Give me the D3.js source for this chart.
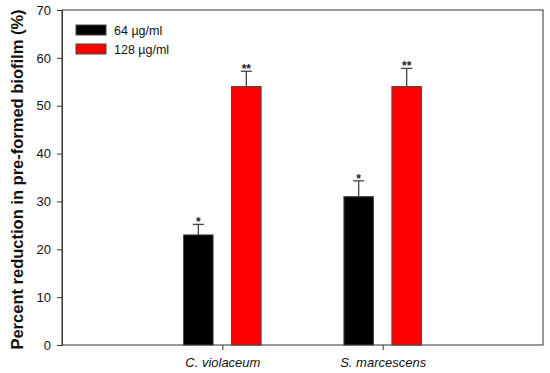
<!DOCTYPE html>
<html>
<head>
<meta charset="utf-8" />
<title>Biofilm reduction</title>
<style>
    body { margin: 0; background: #fff; }
    svg text { font-family: "Liberation Sans", Arial, sans-serif; }
</style>
</head>
<body>
<svg></svg>
<script src="https://d3js.org/d3.v7.min.js"></script>
<script>
    // chart data
    var categories = ["C. violaceum", "S. marcescens"];
    var seriesNames = ["64 \u00b5g/ml", "128 \u00b5g/ml"];
    var seriesColors = ["#000000", "#ff0000"];
    var values64 = [23, 31];
    var values128 = [54, 54];
    var errors64 = [2.2, 3.3];
    var errors128 = [3.2, 3.8];
    var stars64 = ["*", "*"];
    var stars128 = ["**", "**"];
    var yTicks = [0, 10, 20, 30, 40, 50, 60, 70];

    var width = 550, height = 373;
    var margin = { top: 10, right: 7, bottom: 28, left: 62 };

    var svg = d3.select("svg")
        .attr("width", width)
        .attr("height", height);

    var x = d3.scaleLinear()
        .domain([0, categories.length + 1])
        .range([margin.left, width - margin.right]);

    var y = d3.scaleLinear()
        .domain([0, 70])
        .range([height - margin.bottom, margin.top]);

    var barW = 29.5, offset = 24;

    // frame
    svg.append("rect")
        .attr("x", margin.left)
        .attr("y", margin.top)
        .attr("width", width - margin.left - margin.right)
        .attr("height", height - margin.top - margin.bottom)
        .attr("fill", "none")
        .attr("stroke", "#333")
        .attr("stroke-width", 1);

    // y axis
    var yAxis = svg.append("g")
        .attr("transform", "translate(" + margin.left + ",0)")
        .call(d3.axisLeft(y).tickValues(yTicks).tickSize(5).tickPadding(6));
    yAxis.select(".domain").attr("stroke", "#333");
    yAxis.selectAll(".tick line").attr("stroke", "#333");
    yAxis.selectAll("text").style("font-size", "13px").attr("fill", "#111");

    // x axis
    var xAxis = svg.append("g")
        .attr("transform", "translate(0," + (height - margin.bottom) + ")")
        .call(d3.axisBottom(x).tickValues([1, 2]).tickSize(5).tickPadding(8)
            .tickFormat(function (d) { return categories[d - 1]; }));
    xAxis.select(".domain").remove();
    xAxis.selectAll(".tick line").attr("stroke", "#333");
    xAxis.selectAll("text")
        .style("font-size", "13px")
        .style("font-style", "italic")
        .attr("fill", "#111");

    var series = [
        { vals: values64, errs: errors64, stars: stars64, color: seriesColors[0], dx: -offset },
        { vals: values128, errs: errors128, stars: stars128, color: seriesColors[1], dx: offset }
    ];

    series.forEach(function (s) {
        var g = svg.append("g");
        categories.forEach(function (c, i) {
            var cx = x(i + 1) + s.dx;
            // error bar (upper only)
            g.append("line")
                .attr("x1", cx).attr("x2", cx)
                .attr("y1", y(s.vals[i])).attr("y2", y(s.vals[i] + s.errs[i]))
                .attr("stroke", "#444").attr("stroke-width", 1.3);
            g.append("line")
                .attr("x1", cx - 5.5).attr("x2", cx + 5.5)
                .attr("y1", y(s.vals[i] + s.errs[i])).attr("y2", y(s.vals[i] + s.errs[i]))
                .attr("stroke", "#444").attr("stroke-width", 1.3);
            g.append("rect")
                .attr("x", cx - barW / 2)
                .attr("y", y(s.vals[i]))
                .attr("width", barW)
                .attr("height", y(0) - y(s.vals[i]))
                .attr("fill", s.color)
                .attr("stroke", "#444")
                .attr("stroke-width", 1);
            g.append("text")
                .attr("x", cx)
                .attr("y", y(s.vals[i] + s.errs[i]) + 2)
                .attr("text-anchor", "middle")
                .style("font-size", "12px")
                .style("font-weight", "bold")
                .attr("fill", "#222")
                .text(s.stars[i]);
        });
    });

    // legend
    var legend = svg.append("g").attr("transform", "translate(76,25)");
    seriesNames.forEach(function (n, i) {
        legend.append("rect")
            .attr("x", 0).attr("y", i * 19)
            .attr("width", 30).attr("height", 10)
            .attr("fill", seriesColors[i])
            .attr("stroke", "#444").attr("stroke-width", 1);
        legend.append("text")
            .attr("x", 38).attr("y", i * 19 + 9.5)
            .style("font-size", "12.5px")
            .attr("fill", "#111")
            .text(n);
    });

    // y title
    svg.append("text")
        .attr("transform", "translate(23," + ((margin.top + height - margin.bottom) / 2 + 2) + ") rotate(-90)")
        .attr("text-anchor", "middle")
        .style("font-size", "16.5px")
        .style("font-weight", "bold")
        .attr("fill", "#111")
        .text("Percent reduction in pre-formed biofilm (%)");
</script>
</body>
</html>
